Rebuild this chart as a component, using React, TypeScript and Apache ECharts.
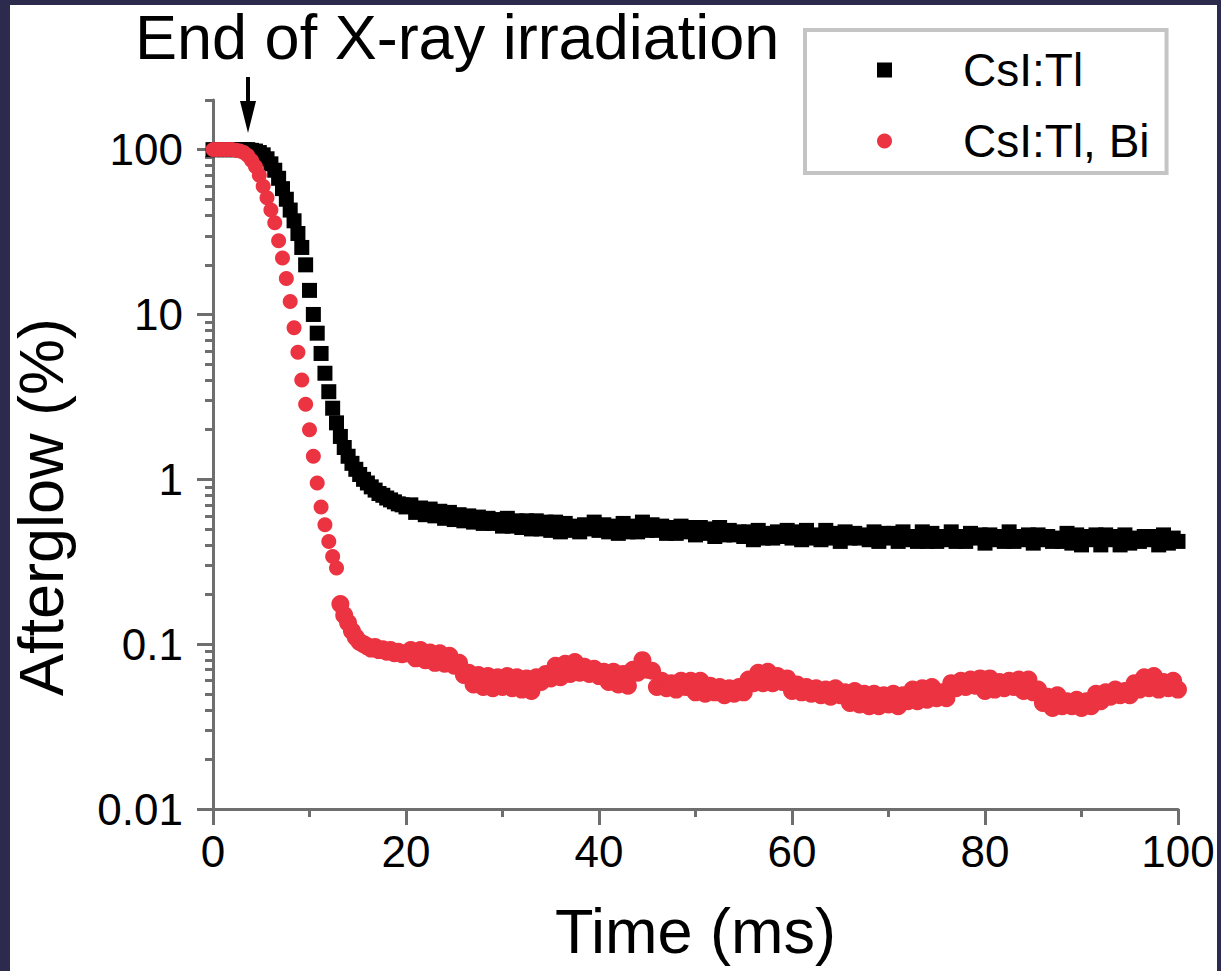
import React, { useEffect, useRef } from "react";
import * as echarts from "echarts";

const FONT = "'Liberation Sans', Arial, Helvetica, sans-serif";

// Time (ms) of each sample
const timeMs = [
  0, 0.4, 0.8, 1.2, 1.6, 2.0, 2.4, 2.8, 3.2, 3.6,
  4.0, 4.4, 4.8, 5.2, 5.6, 6.0, 6.4, 6.8, 7.2, 7.6,
  8.0, 8.4, 8.8, 9.2, 9.6, 10.0, 10.4, 10.8, 11.2, 11.6,
  12.0, 12.4, 12.8, 13.2, 13.6, 14.0, 14.4, 14.8, 15.2, 15.6,
  16.0, 16.4, 16.8, 17.2, 17.6, 18.0, 18.4, 18.8, 19.2, 19.6,
  20.0,
  20.5, 21, 21.5, 22, 22.5, 23, 23.5, 24, 24.5, 25,
  25.5, 26, 26.5, 27, 27.5, 28, 28.5, 29, 29.5, 30,
  30.5, 31, 31.5, 32, 32.5, 33, 33.5, 34, 34.5, 35,
  35.5, 36, 36.5, 37, 37.5, 38, 38.5, 39, 39.5, 40,
  40.5, 41, 41.5, 42, 42.5, 43, 43.5, 44, 44.5, 45,
  45.5, 46, 46.5, 47, 47.5, 48, 48.5, 49, 49.5, 50,
  50.5, 51, 51.5, 52, 52.5, 53, 53.5, 54, 54.5, 55,
  55.5, 56, 56.5, 57, 57.5, 58, 58.5, 59, 59.5, 60,
  60.5, 61, 61.5, 62, 62.5, 63, 63.5, 64, 64.5, 65,
  65.5, 66, 66.5, 67, 67.5, 68, 68.5, 69, 69.5, 70,
  70.5, 71, 71.5, 72, 72.5, 73, 73.5, 74, 74.5, 75,
  75.5, 76, 76.5, 77, 77.5, 78, 78.5, 79, 79.5, 80,
  80.5, 81, 81.5, 82, 82.5, 83, 83.5, 84, 84.5, 85,
  85.5, 86, 86.5, 87, 87.5, 88, 88.5, 89, 89.5, 90,
  90.5, 91, 91.5, 92, 92.5, 93, 93.5, 94, 94.5, 95,
  95.5, 96, 96.5, 97, 97.5, 98, 98.5, 99, 99.5, 100,
];

// Afterglow (%) of CsI:Tl
const csiTl = [
  100, 100, 100, 100, 100, 100, 100, 100, 100, 100,
  99, 98, 96, 93, 88, 82, 75, 67, 58, 50,
  43, 37, 31, 25.5, 20, 14, 10, 7.7, 5.8, 4.4,
  3.4, 2.7, 2.2, 1.82, 1.56, 1.38, 1.25, 1.15, 1.07, 1.0,
  0.95, 0.9, 0.86, 0.82, 0.8, 0.77, 0.75, 0.73, 0.71, 0.7,
  0.68,
  0.7, 0.63, 0.67, 0.61, 0.66, 0.6, 0.64, 0.58, 0.63, 0.57,
  0.61, 0.56, 0.6, 0.55, 0.59, 0.54, 0.58, 0.54, 0.57, 0.52,
  0.58, 0.52, 0.56, 0.51, 0.56, 0.5, 0.56, 0.5, 0.55, 0.49,
  0.55, 0.48, 0.54, 0.49, 0.52, 0.48, 0.53, 0.5, 0.55, 0.49,
  0.53, 0.48, 0.52, 0.47, 0.54, 0.48, 0.52, 0.48, 0.55, 0.49,
  0.53, 0.49, 0.52, 0.47, 0.51, 0.47, 0.52, 0.48, 0.51, 0.46,
  0.51, 0.47, 0.5, 0.45, 0.51, 0.46, 0.49, 0.46, 0.48, 0.45,
  0.48, 0.43, 0.49, 0.44, 0.47, 0.44, 0.48, 0.45, 0.49, 0.44,
  0.48, 0.43, 0.49, 0.44, 0.46, 0.43, 0.49, 0.44, 0.47, 0.42,
  0.48, 0.44, 0.47, 0.44, 0.46, 0.43, 0.48, 0.42, 0.47, 0.44,
  0.47, 0.42, 0.48, 0.43, 0.45, 0.42, 0.48, 0.42, 0.47, 0.42,
  0.45, 0.43, 0.48, 0.42, 0.45, 0.42, 0.47, 0.44, 0.46, 0.41,
  0.46, 0.43, 0.45, 0.42, 0.48, 0.42, 0.45, 0.43, 0.46, 0.41,
  0.46, 0.43, 0.45, 0.42, 0.44, 0.42, 0.47, 0.41, 0.46, 0.4,
  0.45, 0.43, 0.46, 0.4, 0.46, 0.43, 0.45, 0.4, 0.46, 0.41,
  0.44, 0.42, 0.45, 0.43, 0.45, 0.4, 0.46, 0.41, 0.44, 0.42,
];

// Afterglow (%) of CsI:Tl, Bi
const csiTlBi = [
  100, 100, 100, 100, 100, 100, 99, 98, 96, 92,
  86, 79, 70, 60, 51, 43, 36, 28, 22, 16.5,
  12, 8.3, 5.9, 4.0, 2.85, 2.0, 1.38, 0.95, 0.68, 0.53,
  0.42, 0.34, 0.29, 0.175, 0.15, 0.135, 0.12, 0.11, 0.103, 0.1,
  0.097, 0.094, 0.096, 0.092, 0.093, 0.09, 0.092, 0.088, 0.09, 0.087,
  0.088,
  0.092, 0.082, 0.092, 0.08, 0.089, 0.077, 0.088, 0.076, 0.085, 0.074,
  0.077, 0.065, 0.067, 0.057, 0.065, 0.055, 0.064, 0.054, 0.063, 0.055,
  0.064, 0.054, 0.063, 0.053, 0.062, 0.052, 0.063, 0.059, 0.066, 0.062,
  0.074, 0.063, 0.076, 0.066, 0.078, 0.067, 0.073, 0.066, 0.071, 0.064,
  0.068, 0.059, 0.068, 0.057, 0.066, 0.056, 0.07, 0.067, 0.08, 0.07,
  0.069, 0.055, 0.06, 0.054, 0.058, 0.053, 0.06, 0.055, 0.06, 0.051,
  0.06, 0.05, 0.056, 0.051, 0.055, 0.049, 0.054, 0.05, 0.055, 0.051,
  0.061, 0.058, 0.067, 0.058, 0.068, 0.058, 0.064, 0.059, 0.062, 0.052,
  0.057, 0.051, 0.055, 0.05, 0.054, 0.049, 0.053, 0.048, 0.054, 0.049,
  0.051, 0.044, 0.052, 0.043, 0.05, 0.042, 0.05, 0.042, 0.049, 0.043,
  0.05, 0.042, 0.049, 0.045, 0.053, 0.045, 0.054, 0.046, 0.055, 0.047,
  0.051, 0.047, 0.058, 0.054, 0.06, 0.055, 0.061, 0.056, 0.062, 0.052,
  0.062, 0.053, 0.059, 0.054, 0.06, 0.055, 0.061, 0.052, 0.061, 0.051,
  0.053, 0.044, 0.048, 0.041, 0.049, 0.042, 0.045, 0.042, 0.046, 0.041,
  0.045, 0.042, 0.05, 0.045, 0.051, 0.048, 0.053, 0.049, 0.052, 0.049,
  0.058, 0.053, 0.063, 0.054, 0.064, 0.053, 0.059, 0.054, 0.06, 0.053,
];

const seriesNames = ["CsI:Tl", "CsI:Tl, Bi"];
const yMajorTicks = [0.01, 0.1, 1, 10, 100];
const yMinorTicks = [
  0.02, 0.03, 0.04, 0.05, 0.06, 0.07, 0.08, 0.09,
  0.2, 0.3, 0.4, 0.5, 0.6, 0.7, 0.8, 0.9,
  2, 3, 4, 5, 6, 7, 8, 9,
  20, 30, 40, 50, 60, 70, 80, 90,
  200,
];
const titleText = "End of X-ray irradiation";
const xName = "Time (ms)";
const yName = "Afterglow (%)";

const AXIS_COLOR = "#6e6e6e";
const TEXT_COLOR = "#000000";
const RED = "#ec3341";
const FRAME = "#2c2a4d";

export default function App() {
  const ref = useRef<HTMLDivElement>(null);

  useEffect(() => {
    if (!ref.current) return;
    const chart = echarts.init(ref.current, undefined, { renderer: "svg" });
    const fmt = (v: number) => String(Number(Number(v).toPrecision(3)));
    chart.setOption({
      animation: false,
      backgroundColor: "#ffffff",
      grid: { left: 213, right: 43, top: 100, bottom: 162, containLabel: false },
      xAxis: {
        type: "value",
        min: 0,
        max: 100,
        interval: 20,
        name: xName,
        nameLocation: "middle",
        nameGap: 90,
        nameTextStyle: { fontSize: 63, color: TEXT_COLOR, fontFamily: FONT },
        axisLine: { show: true, lineStyle: { color: AXIS_COLOR, width: 3 } },
        axisTick: { show: true, length: 16, lineStyle: { color: AXIS_COLOR, width: 3 } },
        minorTick: { show: true, splitNumber: 2, length: 8, lineStyle: { color: AXIS_COLOR, width: 3 } },
        axisLabel: { fontSize: 44, color: TEXT_COLOR, margin: 20, fontFamily: FONT },
        splitLine: { show: false },
        minorSplitLine: { show: false },
      },
      yAxis: [
        {
          type: "log",
          logBase: 10,
          min: 0.01,
          max: 200,
          position: "left",
          axisLine: { show: true, lineStyle: { color: AXIS_COLOR, width: 3 } },
          axisTick: {
            show: true,
            length: 16,
            customValues: yMajorTicks,
            lineStyle: { color: AXIS_COLOR, width: 3 },
          },
          axisLabel: {
            customValues: yMajorTicks,
            formatter: fmt,
            fontSize: 44,
            color: TEXT_COLOR,
            margin: 30,
            fontFamily: FONT,
          },
          splitLine: { show: false },
        },
        {
          type: "log",
          logBase: 10,
          min: 0.01,
          max: 200,
          position: "left",
          axisLine: { show: false },
          axisTick: {
            show: true,
            length: 8,
            customValues: yMinorTicks,
            lineStyle: { color: AXIS_COLOR, width: 3 },
          },
          axisLabel: { show: false },
          splitLine: { show: false },
        },
      ],
      legend: {
        left: 805,
        top: 30,
        orient: "vertical",
        data: [
          { name: seriesNames[0], icon: "rect" },
          { name: seriesNames[1], icon: "circle" },
        ],
        itemWidth: 15,
        itemHeight: 15,
        itemGap: 25,
        padding: [17, 17, 9, 72],
        borderColor: "#c4c4c4",
        borderWidth: 4,
        selectedMode: false,
        textStyle: {
          fontSize: 46,
          lineHeight: 46,
          color: TEXT_COLOR,
          fontFamily: FONT,
          padding: [0, 0, 0, 66],
        },
      },
      graphic: [
        {
          type: "text",
          x: 135,
          y: 37,
          style: {
            text: titleText,
            fontSize: 63,
            lineHeight: 56,
            fontFamily: FONT,
            fill: TEXT_COLOR,
            textAlign: "left",
            textVerticalAlign: "middle",
          },
        },
        {
          type: "text",
          x: 41,
          y: 507,
          rotation: Math.PI / 2,
          style: {
            text: yName,
            fontSize: 63,
            lineHeight: 56,
            fontFamily: FONT,
            fill: TEXT_COLOR,
            textAlign: "center",
            textVerticalAlign: "middle",
          },
        },
        {
          type: "line",
          shape: { x1: 248, y1: 77, x2: 248, y2: 105 },
          style: { stroke: "#000", lineWidth: 4 },
        },
        {
          type: "polygon",
          shape: { points: [[240, 101], [256, 101], [248, 133]] },
          style: { fill: "#000" },
        },
        { type: "rect", z: 100, shape: { x: 0, y: 0, width: 10, height: 971 }, style: { fill: FRAME } },
        { type: "rect", z: 100, shape: { x: 0, y: 0, width: 1221, height: 5 }, style: { fill: FRAME } },
        { type: "rect", z: 100, shape: { x: 1217, y: 0, width: 4, height: 971 }, style: { fill: FRAME } },
      ],
      series: [
        {
          type: "scatter",
          name: seriesNames[0],
          yAxisIndex: 0,
          symbol: "rect",
          symbolSize: 15,
          itemStyle: { color: "#000000", opacity: 1 },
          data: timeMs.map((t, i) => [t, csiTl[i]]),
          z: 2,
        },
        {
          type: "scatter",
          name: seriesNames[1],
          yAxisIndex: 0,
          symbol: "circle",
          symbolSize: (v: number[]) => (v[0] >= 13 ? 18 : 15),
          itemStyle: { color: RED, opacity: 1 },
          data: timeMs.map((t, i) => [t, csiTlBi[i]]),
          z: 3,
        },
      ],
    });
    return () => chart.dispose();
  }, []);

  return (
    <div
      ref={ref}
      style={{
        position: "fixed",
        left: 0,
        top: 0,
        width: 1221,
        height: 971,
        background: "#ffffff",
      }}
    />
  );
}
